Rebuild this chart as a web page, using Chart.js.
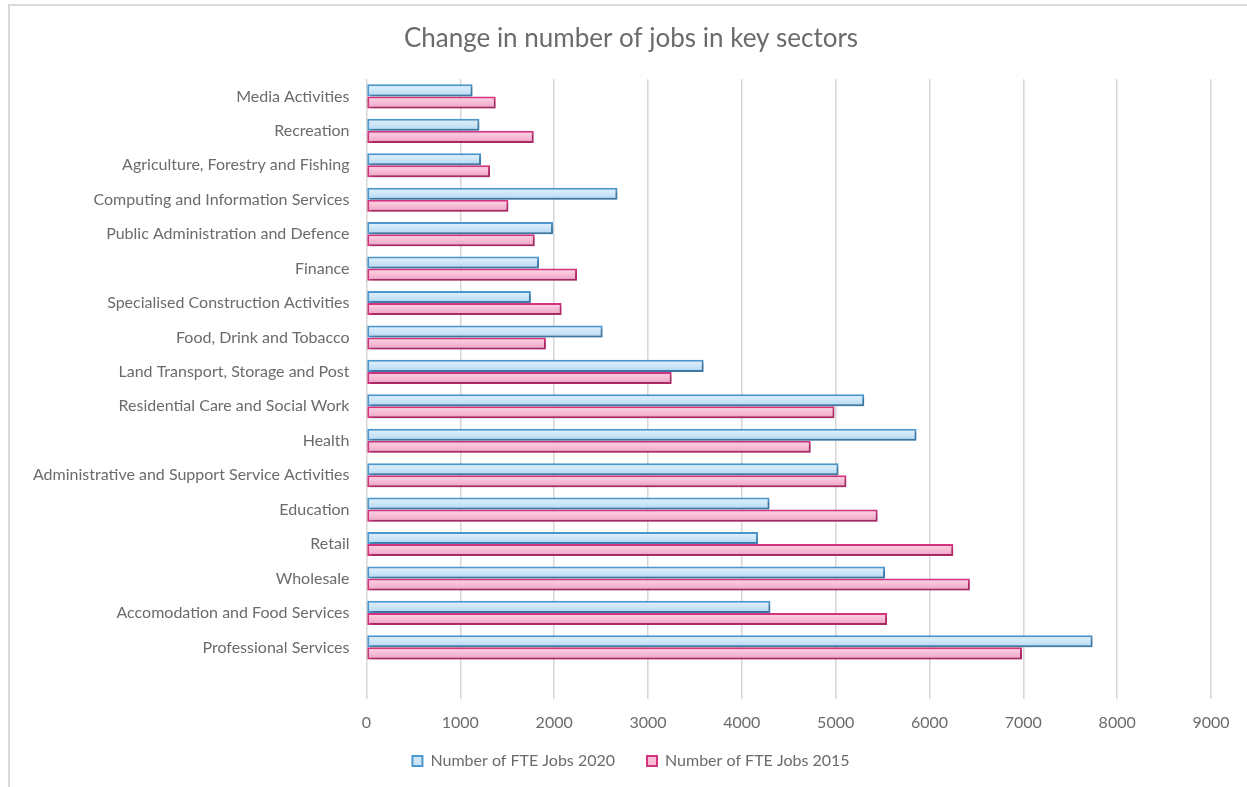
<!DOCTYPE html>
<html>
<head>
<meta charset="utf-8">
<script src="https://cdn.jsdelivr.net/npm/chart.js@4/dist/chart.umd.min.js"></script>
<style>
  html, body { margin: 0; padding: 0; background: #fff; }
  #wrap { position: relative; width: 1247px; height: 787px; }
  #frame { position: absolute; left: 8px; top: 4px; right: 0; bottom: 0; border-left: 2px solid #d9d9d9; border-top: 2px solid #d9d9d9; pointer-events: none; }
</style>
</head>
<body>
<div id="wrap">
  <canvas id="chart" width="1247" height="787"></canvas>
  <div id="frame"></div>
</div>
<script>
const sectors = [
  'Media Activities', 'Recreation', 'Agriculture, Forestry and Fishing',
  'Computing and Information Services', 'Public Administration and Defence', 'Finance',
  'Specialised Construction Activities', 'Food, Drink and Tobacco', 'Land Transport, Storage and Post',
  'Residential Care and Social Work', 'Health', 'Administrative and Support Service Activities',
  'Education', 'Retail', 'Wholesale', 'Accomodation and Food Services', 'Professional Services', ''
];
const jobs2020 = [1130, 1203, 1221, 2674, 1988, 1839, 1752, 2516, 3593, 5304, 5861, 5030, 4295, 4173, 5527, 4304, 7738, null];
const jobs2015 = [1377, 1782, 1317, 1512, 1793, 2244, 2079, 1912, 3252, 4987, 4734, 5114, 5447, 6253, 6430, 5548, 6986, null];
const xTicks = [0, 1000, 2000, 3000, 4000, 5000, 6000, 7000, 8000, 9000];

const BLUE = { border: '#4b98d0', top: '#e3f1fc', mid: '#cde6f8', bottom: '#aed6f2' };
const PINK = { border: '#d6337f', top: '#fcd6e6', mid: '#f7bdd6', bottom: '#ee9fc3' };
const TXT = '#6b6b6b';
const FONT = 'Lato';

// per-bar vertical gradient + soft drop shadow, like the Excel bars
const barLook = {
  id: 'barLook',
  beforeDatasetsDraw(chart) {
    const ctx = chart.ctx;
    chart.data.datasets.forEach((ds, i) => {
      const c = i === 0 ? BLUE : PINK;
      chart.getDatasetMeta(i).data.forEach(el => {
        if (el.y == null || !el.height) return;
        const g = ctx.createLinearGradient(0, el.y - el.height / 2, 0, el.y + el.height / 2);
        g.addColorStop(0, c.top);
        g.addColorStop(0.5, c.mid);
        g.addColorStop(1, c.bottom);
        el.options = { ...el.options, backgroundColor: g };
      });
    });
    ctx.save();
    ctx.shadowColor = 'rgba(0,0,0,0.28)';
    ctx.shadowBlur = 3;
    ctx.shadowOffsetX = 2;
    ctx.shadowOffsetY = 2;
  },
  afterDatasetsDraw(chart) {
    chart.ctx.restore();
  }
};

// labels may run outside their (fixed-size) scale box
const noLabelClip = s => { s._computeLabelArea = () => undefined; };

new Chart(document.getElementById('chart'), {
  type: 'bar',
  data: {
    labels: sectors,
    datasets: [
      { label: 'Number of FTE Jobs 2020', data: jobs2020, backgroundColor: () => BLUE.mid, borderColor: BLUE.border, borderWidth: 2, borderSkipped: false },
      { label: 'Number of FTE Jobs 2015', data: jobs2015, backgroundColor: () => PINK.mid, borderColor: PINK.border, borderWidth: 2, borderSkipped: false }
    ]
  },
  options: {
    indexAxis: 'y',
    responsive: false,
    animation: false,
    categoryPercentage: 0.7,
    barPercentage: 1.0,
    layout: { padding: { left: 51, right: 36, top: 0, bottom: 8 } },
    scales: {
      x: {
        min: 0, max: 9000,
        afterBuildTicks: s => { s.ticks = xTicks.map(v => ({ value: v })); },
        afterFit: s => { s.height = 22; noLabelClip(s); },
        grid: { color: '#d6d6d6', lineWidth: 1.5, drawTicks: false },
        border: { display: false },
        ticks: { color: TXT, padding: 14, font: { family: FONT, size: 16 }, callback: v => String(v) }
      },
      y: {
        afterFit: s => { s.width = 315.5; noLabelClip(s); },
        grid: { display: false },
        border: { display: false },
        ticks: { color: TXT, padding: 9, font: { family: FONT, size: 16 } }
      }
    },
    plugins: {
      title: {
        display: true,
        text: 'Change in number of jobs in key sectors',
        color: '#6b6b6b',
        font: { family: FONT, size: 26, weight: 'normal' },
        padding: { top: 23, bottom: 25 }
      },
      legend: {
        position: 'bottom',
        labels: {
          color: TXT, boxWidth: 10, boxHeight: 10, padding: 32,
          font: { family: FONT, size: 16 }
        }
      },
      tooltip: { enabled: false }
    }
  },
  plugins: [barLook]
});
</script>
</body>
</html>
